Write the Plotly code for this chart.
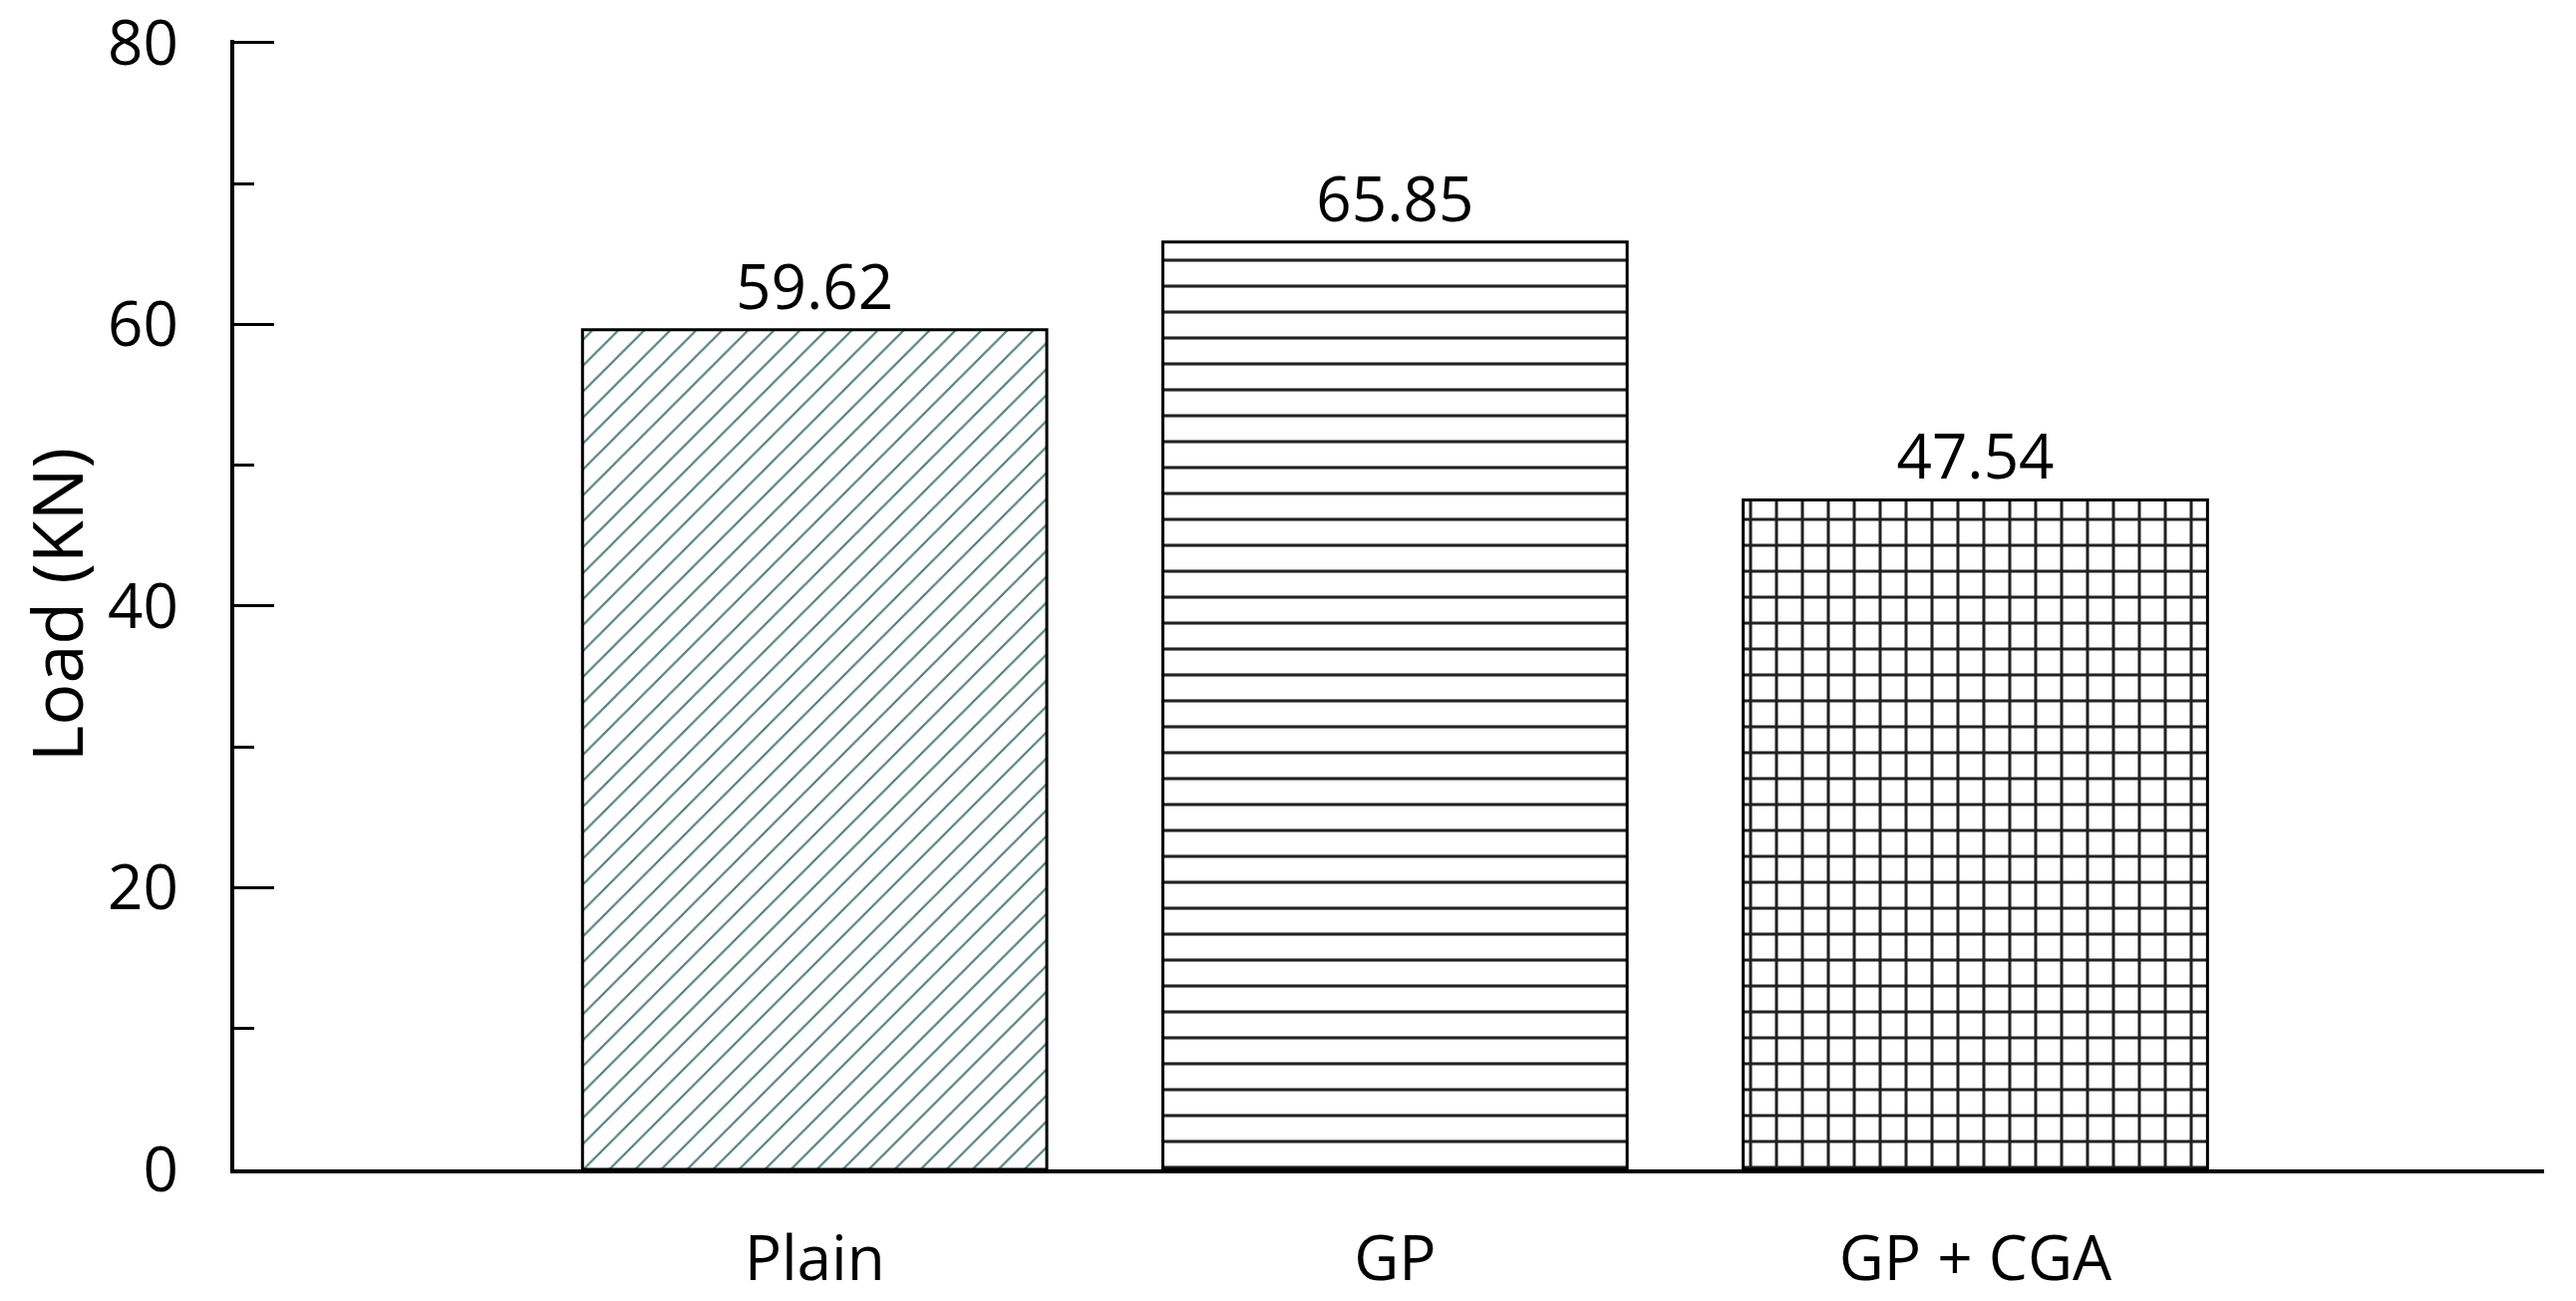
import plotly.graph_objects as go

categories = ["Plain", "GP", "GP + CGA"]
loads = [59.62, 65.85, 47.54]
value_labels = ["59.62", "65.85", "47.54"]
y_ticks = [0, 20, 40, 60, 80]

FONT = "Open Sans"

# hatch styles, one per bar
shapes = ["/", "-", "+"]
hatch_colors = ["#4d7f7d", "#222222", "#222222"]
hatch_sizes = [18.4, 26, 26]
hatch_solidity = [0.12, 0.12, 0.22]

fig = go.Figure()
fig.add_trace(
    go.Bar(
        x=categories,
        y=loads,
        text=value_labels,
        textposition="outside",
        cliponaxis=False,
        textfont=dict(family=FONT, size=62, color="black"),
        width=0.8,
        marker=dict(
            color="white",
            line=dict(color="black", width=3),
            pattern=dict(
                shape=shapes,
                fgcolor=hatch_colors,
                bgcolor="white",
                size=hatch_sizes,
                solidity=hatch_solidity,
                fillmode="replace",
            ),
        ),
        showlegend=False,
    )
)

# page body adds a small margin, so the figure is a bit smaller than the window
fig.update_layout(
    width=2568,
    height=1289,
    margin=dict(l=227, r=24, t=32, b=124),
    plot_bgcolor="white",
    paper_bgcolor="white",
    font=dict(family=FONT, color="black"),
    xaxis=dict(
        type="category",
        range=[-1.0, 2.98],
        showline=True,
        linecolor="black",
        linewidth=3.5,
        ticks="",
        showgrid=False,
        zeroline=False,
        tickfont=dict(family=FONT, size=62),
        ticklabelstandoff=33,
        automargin=False,
    ),
    yaxis=dict(
        range=[0, 80.2],
        tickvals=y_ticks,
        showline=True,
        linecolor="black",
        linewidth=3.5,
        ticks="inside",
        ticklen=40,
        tickwidth=3,
        tickcolor="black",
        minor=dict(dtick=10, ticks="inside", ticklen=20, tickwidth=3, tickcolor="black"),
        showgrid=False,
        zeroline=False,
        tickfont=dict(family=FONT, size=62),
        ticklabelstandoff=40,
        ticklabeloverflow="allow",
        automargin=False,
        title=dict(text="Load (KN)", font=dict(family=FONT, size=70), standoff=30),
    ),
)

fig.write_html("out.html")
